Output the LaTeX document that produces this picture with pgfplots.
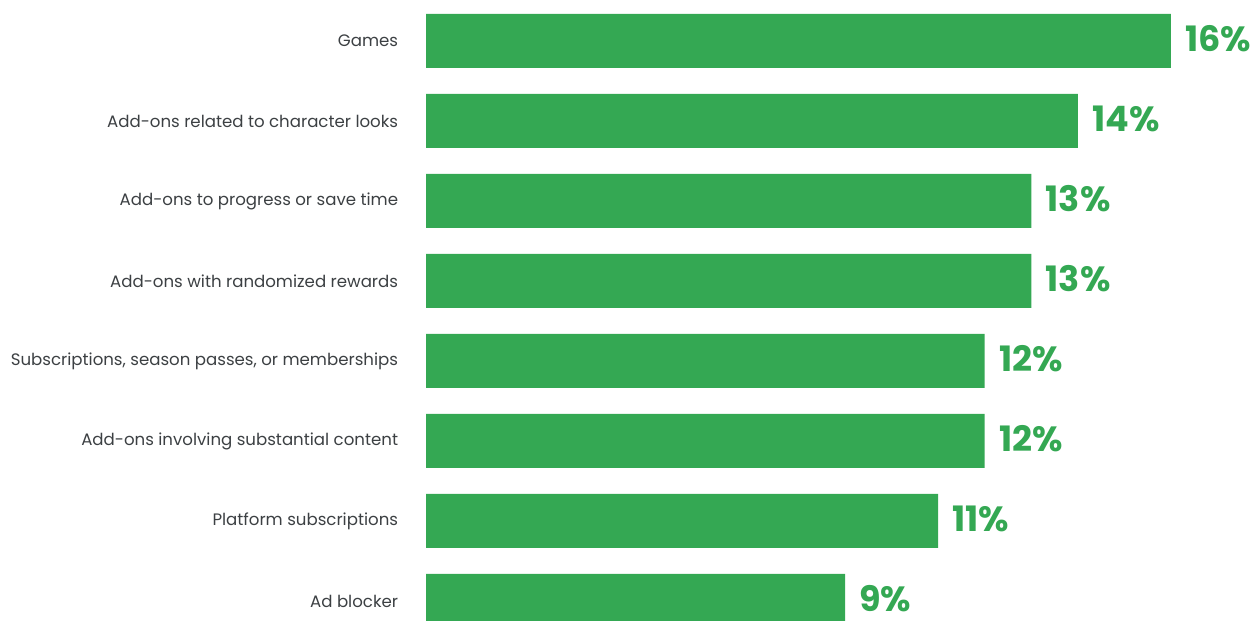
\documentclass[border=0pt]{standalone}
\usepackage{fontspec}
\setmainfont{Poppins}
\usepackage{pgfplots}
\pgfplotsset{compat=1.18}
\definecolor{barg}{HTML}{34A853}
\definecolor{txtg}{HTML}{3C4043}
\begin{document}
\begin{tikzpicture}
\begin{axis}[
  at={(213pt,0pt)}, anchor=south west,
  scale only axis,
  width=415pt, height=310pt,
  xbar,
  xmin=0, xmax=17.826,
  ymin=-0.2375, ymax=7.5125,
  bar width=0.675,
  axis line style={draw=none},
  tick style={draw=none},
  xtick=\empty,
  ytick={0,...,7},
  yticklabels={Ad blocker, Platform subscriptions, Add-ons involving substantial content, {Subscriptions, season passes, or memberships}, Add-ons with randomized rewards, Add-ons to progress or save time, Add-ons related to character looks, Games},
  yticklabel style={anchor=east, inner sep=0pt, xshift=-9.5pt, text=txtg, font=\fontsize{8.3}{10}\selectfont},
  /pgf/number format/assume math mode=true,
  nodes near coords={\pgfmathprintnumber{\pgfplotspointmeta}\%},
  nodes near coords align={horizontal},
  every node near coord/.append style={anchor=west, inner sep=0pt, xshift=7pt, yshift=1pt, text=barg, font=\fontsize{17.5}{20}\selectfont\bfseries},
  clip=true,
]
\addplot[fill=barg, draw=none] coordinates {(9,0) (11,1) (12,2) (12,3) (13,4) (13,5) (14,6) (16,7)};
\end{axis}
\pgfresetboundingbox
\path[use as bounding box] (0,0) rectangle (628pt,310pt);
\end{tikzpicture}
\end{document}
